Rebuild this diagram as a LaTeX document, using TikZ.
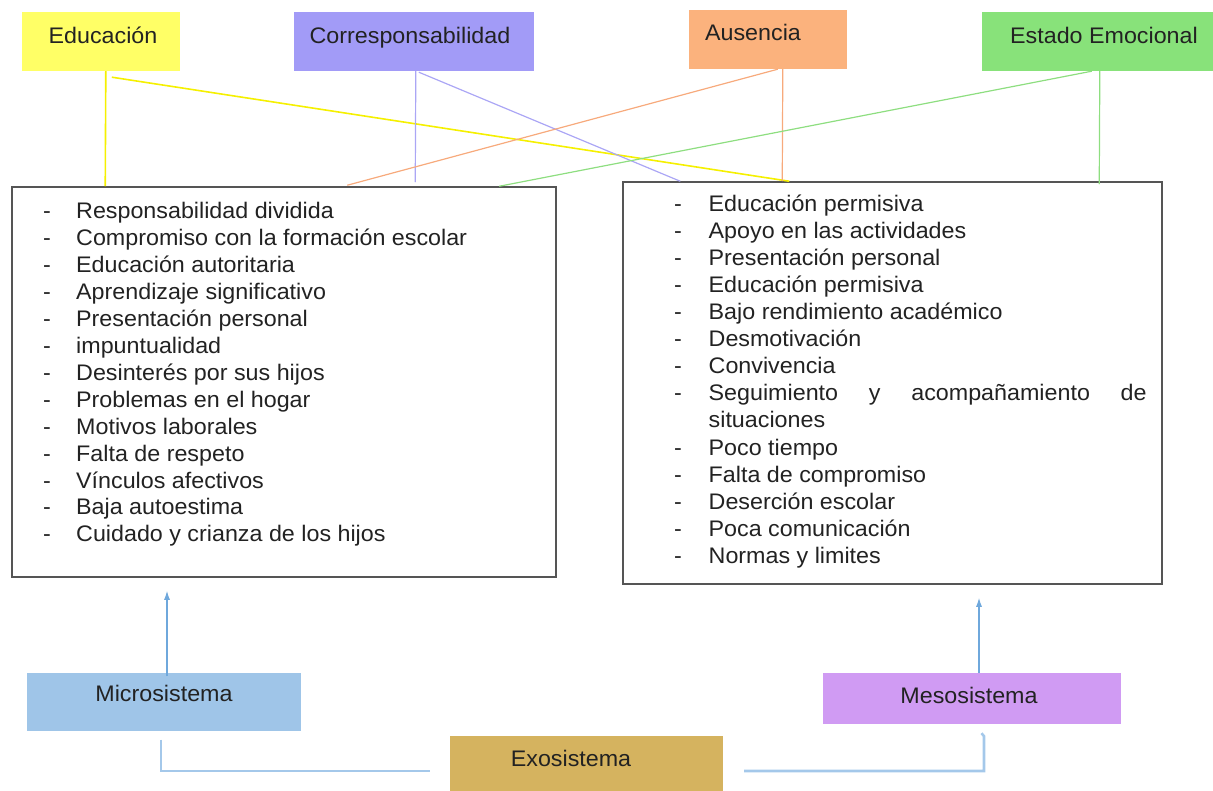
\documentclass[tikz,border=0pt]{standalone}
\usepackage{fontspec}
\setmainfont{Liberation Sans}[FakeStretch=1.035]
\usetikzlibrary{arrows.meta,calc}
\definecolor{txt}{HTML}{222222}
\definecolor{cedu}{HTML}{FFFF66}
\definecolor{ccor}{HTML}{A29BF7}
\definecolor{caus}{HTML}{FBB27D}
\definecolor{cest}{HTML}{88E27A}
\definecolor{cmic}{HTML}{9FC5E8}
\definecolor{cmes}{HTML}{D09BF3}
\definecolor{cexo}{HTML}{D5B35F}
\definecolor{lyel}{HTML}{F5F000}
\definecolor{lpur}{HTML}{ABA6F5}
\definecolor{lora}{HTML}{F7AA7C}
\definecolor{lgre}{HTML}{8EDE80}
\definecolor{larr}{HTML}{6FA8DC}
\definecolor{lcon}{HTML}{A4C8EA}
\definecolor{bord}{HTML}{555555}
\begin{document}
\begin{tikzpicture}[x=1pt,y=-1pt,
  font=\fontsize{22.5}{27}\selectfont, text=txt,
  tbox/.style={rectangle, inner sep=0pt, draw=none},
  lbl/.style={inner sep=0pt, anchor=base},
  lbox/.style={rectangle, draw=bord, line width=1.5pt, inner sep=0pt, fill=white},
  item/.style={inner sep=0pt, anchor=base west},
  yel/.style={draw=lyel, line width=1.6pt},
  pur/.style={draw=lpur, line width=1.2pt},
  ora/.style={draw=lora, line width=1.2pt},
  gre/.style={draw=lgre, line width=1.2pt},
  arr/.style={draw=larr, line width=1.2pt, -{Latex[length=9pt,width=6pt]}},
  con/.style={draw=lcon, line width=2.6pt},
]
\useasboundingbox (0,0) rectangle (1213,791);
% top category boxes
\node[tbox, fill=cedu, minimum width=158pt, minimum height=59pt] (edu) at (101,41.5) {};
\node[tbox, fill=ccor, minimum width=240pt, minimum height=59pt] (cor) at (414,41.5) {};
\node[tbox, fill=caus, minimum width=158pt, minimum height=59pt] (aus) at (768,39.5) {};
\node[tbox, fill=cest, minimum width=231pt, minimum height=59pt] (est) at (1097.5,41.5) {};
\node[lbl] (edut) at (103,44) {Educación};
\node[lbl] (cort) at (410,44) {Corresponsabilidad};
\node[lbl] (aust) at (753,41) {Ausencia};
\node[lbl] (estt) at (1104,44) {Estado Emocional};
% list boxes
\node[lbox, minimum width=544pt, minimum height=390pt] (L) at (284,382) {};
\node[lbox, minimum width=539pt, minimum height=402pt] (R) at (892.5,383) {};
% connectors top
\draw[yel] ([xshift=84pt]edu.south west) -- ([xshift=94pt]L.north west);
\draw[yel] ([xshift=90pt,yshift=-6pt]edu.south west) -- ([xshift=167pt]R.north west);
\draw[pur] ([xshift=122pt]cor.south west) -- ([xshift=404pt,yshift=4pt]L.north west);
\draw[pur] ([xshift=125pt,yshift=-1pt]cor.south west) -- ([xshift=58pt]R.north west);
\draw[ora] ([xshift=89pt]aus.south west) -- ([xshift=336pt,yshift=1pt]L.north west);
\draw[ora] ([xshift=94pt]aus.south west) -- ([xshift=160pt]R.north west);
\draw[gre] ([xshift=110pt]est.south west) -- ([xshift=488pt]L.north west);
\draw[gre] ([xshift=118pt]est.south west) -- ([xshift=477pt,yshift=-3pt]R.north west);
% left list
\foreach \t [count=\i] in {Responsabilidad dividida,Compromiso con la formación escolar,Educación autoritaria,Aprendizaje significativo,Presentación personal,impuntualidad,Desinterés por sus hijos,Problemas en el hogar,Motivos laborales,Falta de respeto,Vínculos afectivos,Baja autoestima,Cuidado y crianza de los hijos}
  \node[item] (l\i) at (43,{219+26.9*(\i-1)}) {\makebox[33pt][l]{-}\t};
% right list
\foreach \t/\k in {Educación permisiva/0,Apoyo en las actividades/1,Presentación personal/2,Educación permisiva/3,Bajo rendimiento académico/4,Desmotivación/5,Convivencia/6,Poco tiempo/9,Falta de compromiso/10,Deserción escolar/11,Poca comunicación/12,Normas y limites/13}
  \node[item] (r\k) at (674,{212+27*\k}) {\makebox[34.5pt][l]{-}\t};
\node[item] (r7) at (674,401) {\makebox[34.5pt][l]{-}\hbox to 438pt{Seguimiento\hfill y\hfill acompañamiento\hfill de}};
\node[item] (r8) at (708.5,428) {situaciones};
% bottom system boxes
\node[tbox, fill=cmic, minimum width=274pt, minimum height=58pt] (mic) at (164,701.5) {};
\node[tbox, fill=cmes, minimum width=298pt, minimum height=51pt] (mes) at (972,698.5) {};
\node[tbox, fill=cexo, minimum width=273pt, minimum height=56pt] (exo) at (586.5,764) {};
\node[lbl] (mict) at (164,701) {Microsistema};
\node[lbl] (mest) at (969,703) {Mesosistema};
\node[lbl] (exot) at (571,766) {Exosistema};
% arrows
\draw[arr] ([xshift=3pt,yshift=-4pt]mic.north) -- ([xshift=-117pt,yshift=-13pt]L.south);
\draw[arr] ([xshift=7pt]mes.north) -- ([xshift=86.5pt,yshift=-13pt]R.south);
% bottom connectors
\coordinate (cl) at ([xshift=-20pt,yshift=-7pt]exo.west);
\coordinate (cr) at ([xshift=21pt,yshift=-7pt]exo.east);
\draw[con] ([xshift=-3pt,yshift=-9pt]mic.south) |- (cl);
\draw[con] (cr) -| ([xshift=12pt,yshift=-12pt]mes.south) -- ++(-2.5,-3);
\end{tikzpicture}
\end{document}
